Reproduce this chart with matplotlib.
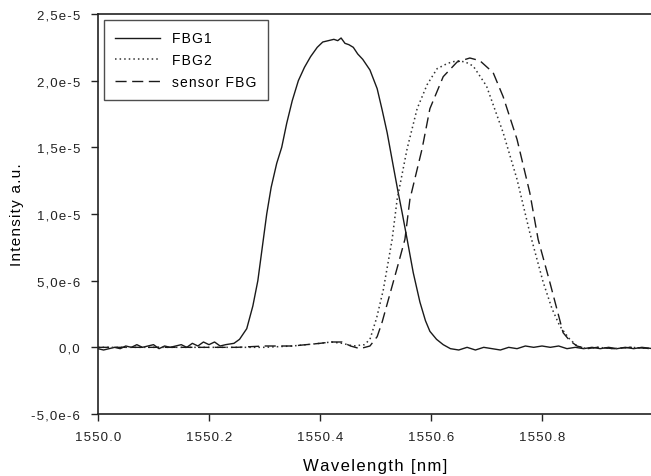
import numpy as np
import matplotlib
matplotlib.use("Agg")
import matplotlib.pyplot as plt

plt.rcParams['font.family'] = ['Liberation Sans', 'DejaVu Sans']

# Data (intensity in units of 1e-6)
fbg1_x = [1550.000, 1550.010, 1550.020, 1550.030, 1550.040, 1550.050, 1550.060, 1550.070,
          1550.080, 1550.090, 1550.100, 1550.110, 1550.120, 1550.130, 1550.140, 1550.150,
          1550.160, 1550.170, 1550.180, 1550.190, 1550.200, 1550.210, 1550.220, 1550.230,
          1550.245, 1550.255, 1550.268, 1550.279, 1550.288, 1550.296, 1550.304, 1550.312,
          1550.322, 1550.331, 1550.340, 1550.350, 1550.361, 1550.372, 1550.383, 1550.395,
          1550.405, 1550.415, 1550.425, 1550.432, 1550.438, 1550.445, 1550.452, 1550.460,
          1550.468, 1550.477, 1550.490, 1550.503, 1550.512, 1550.521, 1550.532, 1550.540,
          1550.548, 1550.557, 1550.568, 1550.580, 1550.590, 1550.598, 1550.610, 1550.622,
          1550.635, 1550.650, 1550.665, 1550.680, 1550.695, 1550.710, 1550.725, 1550.740,
          1550.755, 1550.770, 1550.785, 1550.800, 1550.815, 1550.830, 1550.845, 1550.860,
          1550.875, 1550.890, 1550.905, 1550.920, 1550.935, 1550.950, 1550.965, 1550.980,
          1551.000]
fbg1_y = [-0.1, -0.2, -0.1, 0.0, -0.1, 0.1, 0.0, 0.2,
          0.0, 0.1, 0.2, -0.1, 0.1, 0.0, 0.1, 0.2,
          0.0, 0.3, 0.1, 0.4, 0.2, 0.4, 0.1, 0.2,
          0.3, 0.6, 1.4, 3.1, 5.0, 7.5, 10.0, 12.0,
          13.8, 15.0, 16.8, 18.5, 20.0, 21.0, 21.8, 22.5,
          22.9, 23.0, 23.1, 23.0, 23.2, 22.8, 22.7, 22.5,
          22.0, 21.6, 20.8, 19.4, 17.8, 16.1, 13.6, 11.8,
          10.1, 8.1, 5.6, 3.4, 2.0, 1.2, 0.6, 0.2,
          -0.1, -0.2, 0.0, -0.2, 0.0, -0.1, -0.2, 0.0,
          -0.1, 0.1, 0.0, 0.1, 0.0, 0.1, -0.1, 0.0,
          -0.1, 0.0, -0.1, 0.0, -0.1, 0.0, -0.1, 0.0,
          -0.1]

fbg2_x = [1550.000, 1550.050, 1550.100, 1550.150, 1550.200, 1550.250, 1550.300, 1550.350,
          1550.400, 1550.420, 1550.440, 1550.460, 1550.480, 1550.490, 1550.502, 1550.514,
          1550.530, 1550.539, 1550.557, 1550.575, 1550.593, 1550.611, 1550.630, 1550.647,
          1550.662, 1550.676, 1550.700, 1550.730, 1550.755, 1550.778, 1550.802, 1550.818,
          1550.832, 1550.848, 1550.863, 1550.880, 1550.900, 1550.930, 1550.960, 1551.000]
fbg2_y = [0.0, 0.0, 0.0, 0.0, 0.0, 0.0, 0.0, 0.1,
          0.3, 0.4, 0.3, 0.1, 0.2, 0.6, 2.2, 4.3,
          8.1, 11.1, 14.9, 17.9, 19.7, 20.9, 21.3, 21.5,
          21.4, 21.1, 19.6, 16.1, 12.6, 8.6, 4.9, 2.9,
          1.6, 0.7, 0.1, -0.1, 0.0, -0.1, 0.0, -0.1]

sensor_x = [1550.000, 1550.050, 1550.100, 1550.150, 1550.200, 1550.250, 1550.300, 1550.350,
            1550.400, 1550.420, 1550.440, 1550.455, 1550.472, 1550.490, 1550.503, 1550.512,
            1550.520, 1550.530, 1550.540, 1550.553, 1550.562, 1550.584, 1550.598, 1550.622,
            1550.647, 1550.670, 1550.688, 1550.712, 1550.730, 1550.755, 1550.778, 1550.793,
            1550.814, 1550.838, 1550.850, 1550.863, 1550.880, 1550.900, 1550.930, 1550.960,
            1551.000]
sensor_y = [0.0, 0.0, 0.0, 0.0, 0.0, 0.0, 0.1, 0.1,
            0.3, 0.4, 0.4, 0.1, -0.1, 0.1, 0.8, 1.9,
            3.1, 4.6, 6.1, 8.1, 11.1, 14.9, 17.9, 20.3,
            21.4, 21.7, 21.5, 20.6, 18.8, 15.6, 11.6, 8.1,
            4.9, 1.1, 0.5, 0.1, -0.1, 0.0, -0.1, 0.0,
            -0.1]

y_ticks = [-5, 0, 5, 10, 15, 20, 25]
y_tick_labels = ['-5,0e-6', '0,0', '5,0e-6', '1,0e-5', '1,5e-5', '2,0e-5', '2,5e-5']
x_ticks = [1550.0, 1550.2, 1550.4, 1550.6, 1550.8]
x_tick_labels = ['1550.0', '1550.2', '1550.4', '1550.6', '1550.8']


def spaced(s):
    # the original uses slightly tracked lettering
    return '\u200a'.join(s)


fig = plt.figure(figsize=(6.51, 4.77), dpi=100)
ax = fig.add_axes([98 / 651, 62 / 477, 555 / 651, 400 / 477])

scale = 1e-6
ax.plot(fbg1_x, np.array(fbg1_y) * scale, color='#1a1a1a', lw=1.0, label=spaced('FBG1'))
ax.plot(fbg2_x, np.array(fbg2_y) * scale, color='#333333', lw=1.1,
        linestyle=(0, (1, 2)), label=spaced('FBG2'))
ax.plot(sensor_x, np.array(sensor_y) * scale, color='#1a1a1a', lw=1.0,
        linestyle=(0, (8, 4)), label=spaced('sensor FBG'))

ax.set_xlim(1550.0, 1551.0)
ax.set_ylim(-5e-6, 2.5e-5)
ax.set_xticks(x_ticks)
ax.set_xticklabels([spaced(t) for t in x_tick_labels])
ax.set_yticks(np.array(y_ticks) * scale)
ax.set_yticklabels([spaced(t) for t in y_tick_labels])
ax.tick_params(direction='out', length=5, width=1, labelsize=9.5, colors='#222222')
ax.tick_params(axis='x', pad=7)
ax.tick_params(axis='y', pad=8)

ax.spines['right'].set_visible(False)
for s in ['left', 'bottom', 'top']:
    ax.spines[s].set_linewidth(1.2)
    ax.spines[s].set_color('#222222')

ax.set_xlabel(spaced('Wavelength [nm]'), fontsize=12, labelpad=11)
ax.set_ylabel(spaced('Intensity a.u.'), fontsize=11, labelpad=5)

leg = ax.legend(loc='upper left', fontsize=10, frameon=True, fancybox=False,
                edgecolor='#222222', borderaxespad=0.4, handlelength=3.2,
                handletextpad=0.9, borderpad=0.85, labelspacing=0.55)
leg.get_frame().set_linewidth(1.0)

fig.savefig('out.png', dpi=100)
